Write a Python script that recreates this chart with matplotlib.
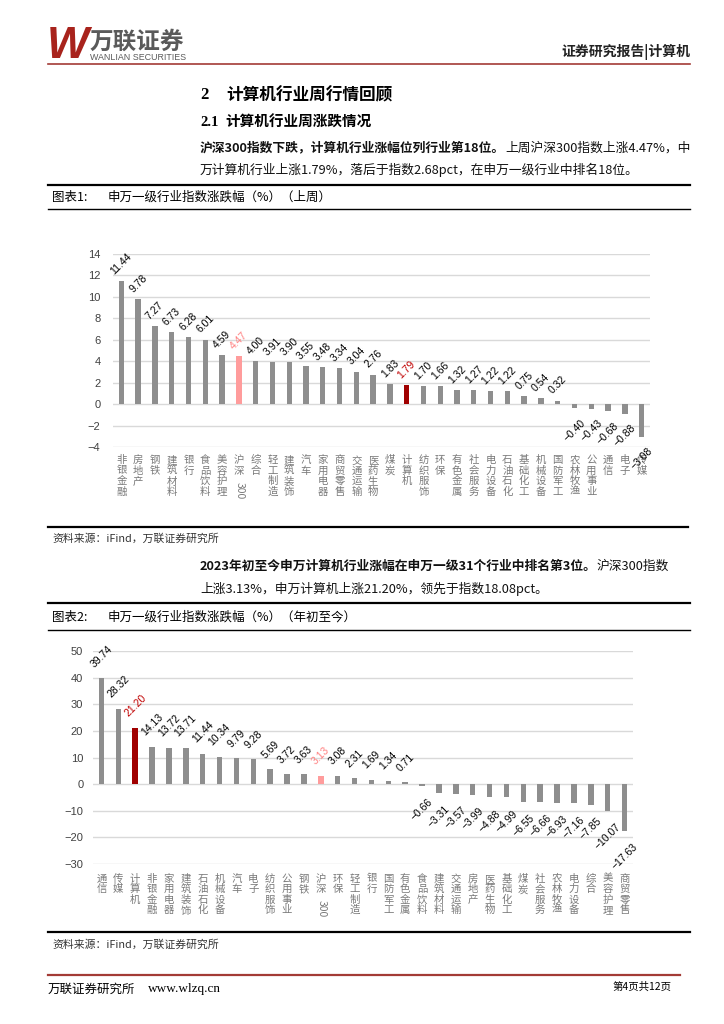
import matplotlib as mpl
mpl.use('Agg')
import matplotlib.pyplot as plt
import numpy as np

plt.rcParams['font.family'] = ['Noto Sans CJK SC', 'DejaVu Sans']
plt.rcParams['axes.unicode_minus'] = True

W, H = 724, 1024

# ============ chart 1 : last week ============ #
cat1 = ['非银金融', '房地产', '钢铁', '建筑材料', '银行', '食品饮料', '美容护理', '沪深300',
        '综合', '轻工制造', '建筑装饰', '汽车', '家用电器', '商贸零售', '交通运输', '医药生物',
        '煤炭', '计算机', '纺织服饰', '环保', '有色金属', '社会服务', '电力设备', '石油石化',
        '基础化工', '机械设备', '国防军工', '农林牧渔', '公用事业', '通信', '电子', '传媒']
val1 = [11.44, 9.78, 7.27, 6.73, 6.28, 6.01, 4.59, 4.47,
        4.00, 3.91, 3.90, 3.55, 3.48, 3.34, 3.04, 2.76,
        1.83, 1.79, 1.70, 1.66, 1.32, 1.27, 1.22, 1.22,
        0.75, 0.54, 0.32, -0.40, -0.43, -0.68, -0.88, -3.08]

# ============ chart 2 : year to date ============ #
cat2 = ['通信', '传媒', '计算机', '非银金融', '家用电器', '建筑装饰', '石油石化', '机械设备',
        '汽车', '电子', '纺织服饰', '公用事业', '钢铁', '沪深300', '环保', '轻工制造',
        '银行', '国防军工', '有色金属', '食品饮料', '建筑材料', '交通运输', '房地产', '医药生物',
        '基础化工', '煤炭', '社会服务', '农林牧渔', '电力设备', '综合', '美容护理', '商贸零售']
val2 = [39.74, 28.32, 21.20, 14.13, 13.72, 13.71, 11.44, 10.34,
        9.79, 9.28, 5.69, 3.72, 3.63, 3.13, 3.08, 2.31,
        1.69, 1.34, 0.71, -0.66, -3.31, -3.57, -3.99, -4.88,
        -4.99, -6.55, -6.66, -6.93, -7.16, -7.85, -10.07, -17.63]

INDEX = '沪深300'
SECTOR = '计算机'

RED = '#a33b36'
fig = plt.figure(figsize=(7.24, 10.24), dpi=100)
rend = fig.canvas.get_renderer()


def fx(px):
    return px / W


def fy(py):
    return 1 - py / H


def put(x, y, s, **kw):
    kw.setdefault('va', 'center')
    return fig.text(fx(x), fy(y), s, **kw)


def hline(y, x0, x1, lw, color='black'):
    fig.add_artist(plt.Line2D([fx(x0), fx(x1)], [fy(y), fy(y)], lw=lw, color=color))


def run_line(x, y, parts, size):
    for s, w in parts:
        t = put(x, y, s, fontsize=size, fontweight=w, color='#111111')
        x += t.get_window_extent(rend).width


def bar_chart(l, t, r, b, cats, vals, ylim, step, pad, gap_pos, gap_neg, lab_off):
    ax = fig.add_axes([fx(l), fy(b), (r - l) / W, (b - t) / H])
    x = np.arange(len(cats))
    cols = []
    for c in cats:
        if c == INDEX:
            cols.append('#ff9c9c')
        elif c == SECTOR:
            cols.append('#a00000')
        else:
            cols.append('#8e8e8e')
    ax.bar(x, vals, width=0.32, color=cols, zorder=3)
    ax.set_xlim(-0.5, len(cats) - 0.5)
    ax.set_ylim(*ylim)
    ax.set_yticks(np.arange(ylim[0], ylim[1] + step / 2, step))
    ax.grid(axis='y', color='#d9d9d9', lw=1.0, zorder=0)
    for s in ax.spines.values():
        s.set_visible(False)
    ax.tick_params(axis='y', length=0, labelsize=8, labelcolor='#404040', pad=pad)
    for lab in ax.get_yticklabels():
        lab.set_family(['Liberation Sans', 'DejaVu Sans'])
    ax.set_xticks([])

    # value labels, centred on the bar like excel does
    for i, (c, v) in enumerate(zip(cats, vals)):
        col = '#ff7f7f' if c == INDEX else ('#c00000' if c == SECTOR else 'black')
        txt = f'{v:.2f}'.replace('-', '\u2212')
        if v >= 0:
            ax.annotate(txt, (i, v), xytext=(0, gap_pos), textcoords='offset points',
                        rotation=45, ha='center', va='bottom', fontsize=7.5, color=col,
                        family=['Liberation Sans', 'DejaVu Sans'], zorder=4)
        else:
            ax.annotate(txt, (i, v), xytext=(0, -gap_neg), textcoords='offset points',
                        rotation=45, ha='center', va='top', fontsize=7.5, color=col,
                        family=['Liberation Sans', 'DejaVu Sans'], zorder=4,
                        annotation_clip=False)

    # category labels, one character per line
    tr = ax.get_xaxis_transform()
    for i, c in enumerate(cats):
        kw = dict(xycoords=tr, textcoords='offset points', ha='center', va='top',
                  fontsize=7.5, color='#7a7a7a', linespacing=1.05, annotation_clip=False)
        if c == INDEX:
            ax.annotate('沪\n深', (i, 0), xytext=(0, lab_off), **kw)
            kw['rotation'] = -90
            ax.annotate('300', (i, 0), xytext=(0.5, lab_off - 19), **kw)
        else:
            ax.annotate('\n'.join(c), (i, 0), xytext=(0, lab_off), **kw)
    return ax


# ====================== HEADER ====================== #
put(47, 46, 'W', fontsize=32, fontweight='bold', style='italic', color='#a8231c',
    family=['Liberation Sans', 'DejaVu Sans'])
put(90, 42, '万联证券', fontsize=17, fontweight='bold', color='#5a5a5a')
put(90, 58, 'WANLIAN SECURITIES', fontsize=6.4, color='#5a5a5a',
    family=['Liberation Sans', 'DejaVu Sans'])
put(690, 52, '证券研究报告|计算机', fontsize=10, fontweight='bold', ha='right', color='#222222')
hline(64, 48, 690, 1.2, RED)

# ====================== TITLES ====================== #
put(200, 95, '2', fontsize=12, fontweight='bold', family=['Liberation Serif', 'DejaVu Serif'])
put(226, 95, '计算机行业周行情回顾', fontsize=12, fontweight='bold')
put(200, 122, '2.1', fontsize=10.5, fontweight='bold', family=['Liberation Serif', 'DejaVu Serif'])
put(225, 122, '计算机行业周涨跌情况', fontsize=10.5, fontweight='bold')

run_line(200, 148, [('沪深300指数下跌，计算机行业涨幅位列行业第18位。', 'bold'),
                    ('上周沪深300指数上涨4.47%，中', 'normal')], 9.2)
run_line(200, 170, [('万计算机行业上涨1.79%，落后于指数2.68pct，在申万一级行业中排名18位。', 'normal')], 9.2)

# ====================== CHART 1 ====================== #
hline(185, 48, 690, 1.6)
put(52, 197, '图表1:', fontsize=9)
put(108, 197, '申万一级行业指数涨跌幅（%）（上周）', fontsize=9)
hline(209, 48, 690, 1.0)
bar_chart(113, 254, 650, 447, cat1, val1, (-4, 14), 2, 9, 3.5, 6.5, -6)
hline(527, 48, 688, 1.6)
put(52, 539, '资料来源：iFind，万联证券研究所', fontsize=7.8, color='#333333')

# ====================== CHART 2 ====================== #
run_line(200, 566, [('2023年初至今申万计算机行业涨幅在申万一级31个行业中排名第3位。', 'bold'),
                    ('沪深300指数', 'normal')], 9.2)
run_line(200, 589, [('上涨3.13%，申万计算机上涨21.20%，领先于指数18.08pct。', 'normal')], 9.2)
hline(603, 48, 690, 1.6)
put(52, 617, '图表2:', fontsize=9)
put(108, 617, '申万一级行业指数涨跌幅（%）（年初至今）', fontsize=9)
hline(630, 48, 690, 1.0)
bar_chart(93, 651, 633, 864, cat2, val2, (-30, 50), 10, 7, 6.5, 8, -7)
hline(932, 48, 690, 1.6)
put(52, 945, '资料来源：iFind，万联证券研究所', fontsize=7.8, color='#333333')

# ====================== FOOTER ====================== #
hline(975, 48, 680, 1.6, RED)
put(48, 989, '万联证券研究所', fontsize=9)
put(148, 989, 'www.wlzq.cn', fontsize=9.5, family=['Liberation Serif', 'DejaVu Serif'])
put(672, 987, '第4页共12页', fontsize=7.5, ha='right')

fig.savefig('out.png', dpi=100)
